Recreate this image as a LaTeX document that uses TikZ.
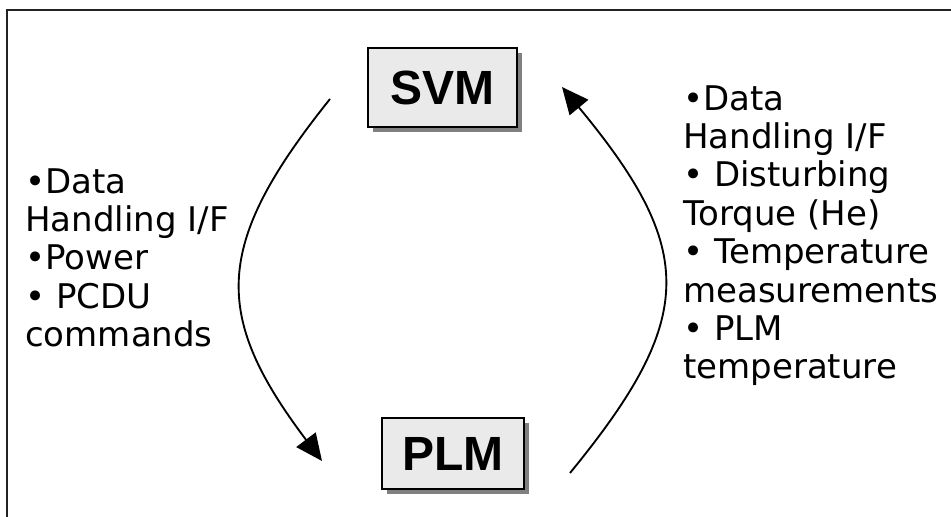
\documentclass[tikz,border=0pt]{standalone}
\usepackage{fontspec}
\setmainfont{DejaVu Sans}
\newfontfamily\boxfont{Liberation Sans}
\usetikzlibrary{arrows.meta}
\definecolor{boxfill}{HTML}{EAEAEA}
\definecolor{boxshade}{HTML}{808080}
\definecolor{framecol}{HTML}{222222}
\begin{document}
\begin{tikzpicture}[x=0.75pt,y=-0.75pt,
  modbox/.style={draw=black,line width=1.5pt,fill=boxfill,inner sep=0pt,
    font=\boxfont\bfseries\fontsize{36pt}{40pt}\selectfont,
    preaction={draw=none,fill=boxshade,transform canvas={xshift=3.75pt,yshift=-3.75pt}}},
  itemlist/.style={inner sep=0pt,align=left,anchor=north west,
    font=\fontsize{25.5pt}{28.8pt}\selectfont},
  flow/.style={line width=1.4pt,-{Triangle[length=20pt,width=18pt]}}]
  \useasboundingbox (0,0) rectangle (951,517);
  % outer frame (runs off the right and bottom edges)
  \draw[framecol,line width=1.6pt] (7,517) -- (7,10) -- (951,10);
  % modules
  \node[modbox,minimum width=149*0.75pt,minimum height=79*0.75pt] (svm) at (442.5,87.5) {SVM};
  \node[modbox,minimum width=142*0.75pt,minimum height=71*0.75pt] (plm) at (453,453.5) {PLM};
  % interface lists
  \node[itemlist] (down) at (25,168) {\textbullet Data\\Handling I/F\\\textbullet Power\\\textbullet{} PCDU\\commands};
  \node[itemlist] (up) at (683,85) {\textbullet Data\\Handling I/F\\\textbullet{} Disturbing\\Torque (He)\\\textbullet{} Temperature\\measurements\\\textbullet{} PLM\\temperature};
  % arrow ends next to the boxes
  \coordinate (svmout) at (330,99);
  \coordinate (plmin) at (322,461);
  \coordinate (plmout) at (570,473);
  \coordinate (svmin) at (562,87);
  \draw[flow] (svmout) .. controls (213,245) and (212,315) .. (plmin);
  \draw[flow] (plmout) .. controls (697,318) and (697,250) .. (svmin);
\end{tikzpicture}
\end{document}
